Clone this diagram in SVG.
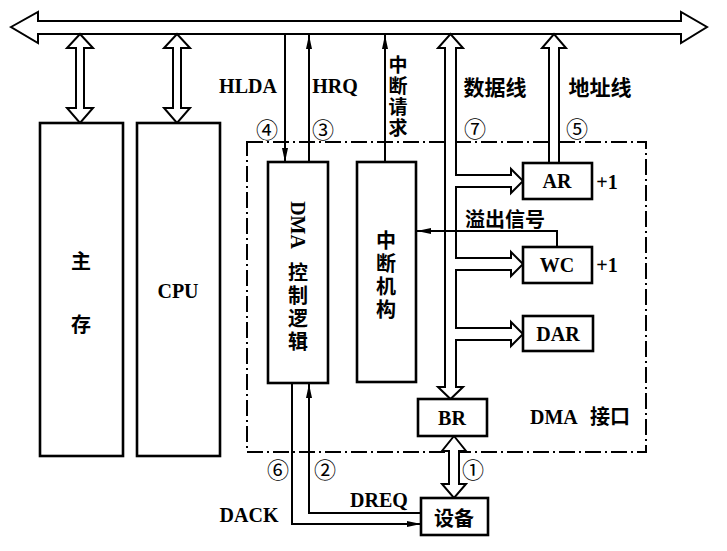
<svg xmlns="http://www.w3.org/2000/svg" width="727" height="551" viewBox="0 0 727 551">
<style>
.box{fill:#fff;stroke:#000;stroke-width:2.6}
.hol{fill:#fff;stroke:#000;stroke-width:2;stroke-linejoin:miter}
.ln{fill:none;stroke:#000;stroke-width:2}
.dd{fill:none;stroke:#000;stroke-width:2;stroke-dasharray:16 4 2 4}
.t{font-family:"Liberation Serif","Noto Sans CJK SC",serif;font-weight:bold;font-size:20px;fill:#000}
.c{font-family:"Noto Sans CJK SC",sans-serif;font-weight:bold;font-size:20px;fill:#000}
.n{font-family:"Noto Sans CJK SC","DejaVu Sans",sans-serif;font-size:22px;fill:#000;text-anchor:middle;dominant-baseline:central}
.m{text-anchor:middle;dominant-baseline:central}
</style>
<defs>
<marker id="ah" viewBox="0 0 14 6" refX="14" refY="3" markerWidth="14" markerHeight="6" markerUnits="userSpaceOnUse" orient="auto"><path d="M0,0 L14,3 L0,6 z" fill="#000"/></marker>
</defs>
<rect width="727" height="551" fill="#fff"/>

<g id="dma-interface">
<rect x="247" y="142" width="399" height="310" class="dd"/>
<text class="t" x="530" y="424">DMA<tspan class="c" x="590">接口</tspan></text>
</g>

<g id="connectors">
<polygon id="bus" class="hol" points="11,27 38,12 38,21 681,21 681,12 707,27 681,43 681,34 38,34 38,43"/>
<polygon class="hol" points="80,34 93,48 84,48 84,108 93,108 80,123 67,108 76,108 76,48 67,48"/>
<polygon class="hol" points="177,34 190,48 181,48 181,108 190,108 177,123 164,108 173,108 173,48 164,48"/>
<path class="hol" d="M549,162 V48 H542 L554,34 L566,48 H559 V162"/>
<path class="hol" d="M445,387 V48 H438 L450.5,34 L463,48 H456 V175 H511 V169 L523,181 L511,193 V187 H456 V258 H511 V252 L523,264 L511,276 V270 H456 V328 H511 V322 L523,334 L511,346 V340 H456 V387 H463 L450.5,399 L438,387 Z"/>
<polygon class="hol" points="454,436 466,451 459,451 459,484 466,484 454,498 442,484 449,484 449,451 442,451"/>
<path class="ln" d="M557,247 V231 H417" marker-end="url(#ah)"/>
<path class="ln" d="M285,34 V162" marker-end="url(#ah)"/>
<path class="ln" d="M309,162 V35" marker-end="url(#ah)"/>
<path class="ln" d="M385,162 V35" marker-end="url(#ah)"/>
<path class="ln" d="M421,513 H309 V384" marker-end="url(#ah)"/>
<path class="ln" d="M292,383 V524 H421" marker-end="url(#ah)"/>
</g>

<g id="labels">
<text class="t m" x="248" y="86">HLDA</text>
<text class="t m" x="335" y="86">HRQ</text>
<text class="c" x="398" y="55" writing-mode="vertical-rl" style="font-size:19px;letter-spacing:2px">中断请求</text>
<text class="c m" x="495" y="86" style="font-size:21px">数据线</text>
<text class="c m" x="600" y="86" style="font-size:21px">地址线</text>
<text class="c m" x="505" y="218">溢出信号</text>
<text class="t m" x="607" y="182">+1</text>
<text class="t m" x="607" y="265">+1</text>
<text class="t m" x="249" y="515">DACK</text>
<text class="t" x="350" y="507">DREQ</text>
<text class="n" x="267" y="128">④</text>
<text class="n" x="323" y="128">③</text>
<text class="n" x="475" y="127">⑦</text>
<text class="n" x="577" y="127">⑤</text>
<text class="n" x="278" y="468">⑥</text>
<text class="n" x="325" y="468">②</text>
<text class="n" x="473" y="468">①</text>
</g>

<g id="memory">
<rect class="box" x="40" y="123" width="83" height="333"/>
<text class="c m" x="81" y="260">主</text>
<text class="c m" x="81" y="323">存</text>
</g>

<g id="cpu">
<rect class="box" x="137" y="123" width="83" height="333"/>
<text class="t m" x="178" y="291">CPU</text>
</g>

<g id="dma-control">
<rect class="box" x="268" y="162" width="60" height="221"/>
<text class="t m" transform="translate(298,225) rotate(90)">DMA</text>
<text class="c" x="298" y="262" writing-mode="vertical-rl" style="letter-spacing:3px">控制逻辑</text>
</g>

<g id="interrupt-unit">
<rect class="box" x="357" y="162" width="59" height="220"/>
<text class="c" x="386" y="230" writing-mode="vertical-rl" style="letter-spacing:3px">中断机构</text>
</g>

<g id="ar">
<rect class="box" x="523" y="163" width="69" height="36"/>
<text class="t m" x="557" y="181">AR</text>
</g>

<g id="wc">
<rect class="box" x="523" y="247" width="69" height="36"/>
<text class="t m" x="557" y="265">WC</text>
</g>

<g id="dar">
<rect class="box" x="523" y="316" width="70" height="35"/>
<text class="t m" x="558" y="334">DAR</text>
</g>

<g id="br">
<rect class="box" x="418" y="399" width="69" height="37"/>
<text class="t m" x="452" y="418">BR</text>
</g>

<g id="device">
<rect class="box" x="421" y="498" width="67" height="37"/>
<text class="c m" x="454" y="517">设备</text>
</g>
</svg>
